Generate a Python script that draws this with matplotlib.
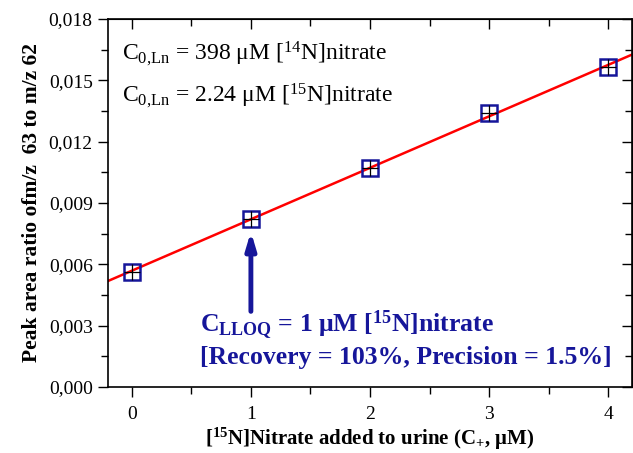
import numpy as np
import matplotlib
matplotlib.use("Agg")
import matplotlib.pyplot as plt
from matplotlib.ticker import MultipleLocator, FuncFormatter

plt.rcParams['font.family'] = ['Liberation Serif', 'DejaVu Serif']
plt.rcParams['mathtext.fontset'] = 'custom'
plt.rcParams['mathtext.rm'] = 'Liberation Serif'
plt.rcParams['mathtext.it'] = 'Liberation Serif:italic'
plt.rcParams['mathtext.bf'] = 'Liberation Serif:bold'

# Data
added_conc = [0, 1, 2, 3, 4]
peak_ratio = [0.00564, 0.00824, 0.01069, 0.01339, 0.01565]
x_ticks = [0, 1, 2, 3, 4]
y_ticks = [0.000, 0.003, 0.006, 0.009, 0.012, 0.015, 0.018]

navy = '#16169a'

fig = plt.figure(figsize=(6.33, 4.53), dpi=100)
ax = fig.add_axes([0.1706, 0.1457, 0.8278, 0.8123])

# regression line
slope, intercept = np.polyfit(added_conc, peak_ratio, 1)
xl = np.array([-0.2, 4.2])
ax.plot(xl, slope * xl + intercept, color='red', lw=1.8, zorder=2)

ax.plot(added_conc, peak_ratio, linestyle='none', marker='s', ms=11.5,
        mfc='none', mec=navy, mew=1.8, zorder=3)
ax.plot(added_conc, peak_ratio, linestyle='none', marker='+', ms=11.5,
        color='black', mew=0.9, zorder=4)

ax.set_xlim(-0.2, 4.2)
ax.set_ylim(0, 0.018)
ax.set_xticks(x_ticks)
ax.set_yticks(y_ticks)
ax.xaxis.set_minor_locator(MultipleLocator(0.5))
ax.yaxis.set_minor_locator(MultipleLocator(0.0015))
ax.yaxis.set_major_formatter(FuncFormatter(lambda v, p: f"{v:.3f}".replace('.', ',')))

ax.tick_params(which='both', direction='out', top=False, right=False, labelsize=14, width=1)
ax.tick_params(which='major', length=7)
ax.tick_params(which='minor', length=5)
ax.tick_params(axis='x', pad=7)
ax.tick_params(axis='y', pad=4)
sec_x = ax.secondary_xaxis('top')
sec_x.set_xticks(x_ticks)
sec_x.xaxis.set_minor_locator(MultipleLocator(0.5))
sec_x.tick_params(which='both', direction='in', labeltop=False, width=1)
sec_x.tick_params(which='major', length=7)
sec_x.tick_params(which='minor', length=5)
sec_y = ax.secondary_yaxis('right')
sec_y.set_yticks(y_ticks)
sec_y.yaxis.set_minor_locator(MultipleLocator(0.0015))
sec_y.tick_params(which='both', direction='in', labelright=False, width=1)
sec_y.tick_params(which='major', length=7)
sec_y.tick_params(which='minor', length=5)
for s in ax.spines.values():
    s.set_linewidth(1.2)

ax.set_xlabel('[$^{\\mathbf{15}}$N]Nitrate added to urine (C$_{\\mathbf{+}}$, μM)',
              fontsize=15, fontweight='bold', labelpad=2)
ax.set_ylabel('Peak area ratio ofm/z  63 to m/z 62', fontsize=15.5,
              fontweight='bold', labelpad=5)

ax.text(0.027, 0.888, 'C$_{\\mathrm{0{,}Ln}}$ = 398 μM [$^{14}$N]nitrate',
        transform=ax.transAxes, fontsize=17, va='baseline', ha='left')
ax.text(0.027, 0.775, 'C$_{\\mathrm{0{,}Ln}}$ = 2.24 μM [$^{15}$N]nitrate',
        transform=ax.transAxes, fontsize=17, va='baseline', ha='left')

ax.text(0.175, 0.17, 'C$_{\\mathbf{LLOQ}}$ = 1 μM [$^{\\mathbf{15}}$N]nitrate',
        transform=ax.transAxes, fontsize=18.5, fontweight='bold', color=navy,
        va='center', ha='left')
ax.text(0.175, 0.08, '[Recovery = 103%, Precision = 1.5%]',
        transform=ax.transAxes, fontsize=18.5, fontweight='bold', color=navy,
        va='center', ha='left')

ax.annotate('', xy=(1, 0.0076), xytext=(1, 0.0037),
            arrowprops=dict(arrowstyle='-|>,head_width=0.3,head_length=1.0',
                            color=navy, lw=3.5, shrinkA=0, shrinkB=0))

fig.savefig('out.png', dpi=100)
